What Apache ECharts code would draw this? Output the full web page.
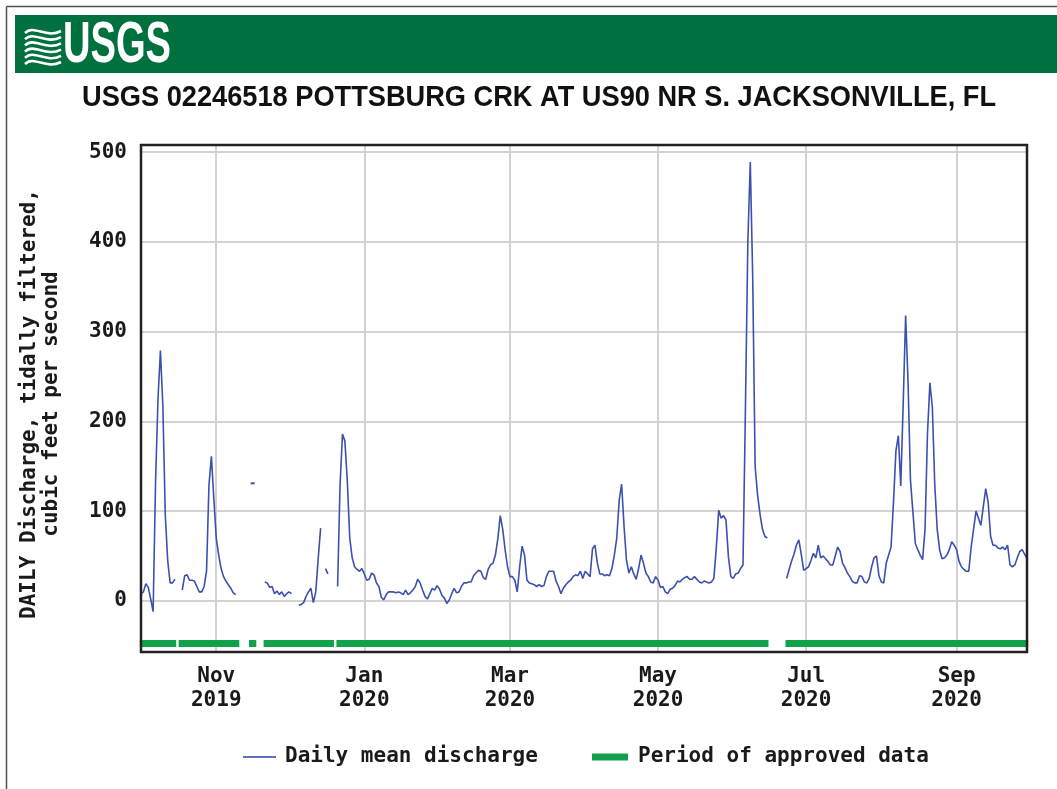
<!DOCTYPE html>
<html>
<head>
<meta charset="utf-8">
<script src="https://cdn.jsdelivr.net/npm/echarts@6/dist/echarts.min.js"></script>
<style>
  html, body { margin: 0; padding: 0; background: #ffffff; }
  #chart { width: 1057px; height: 789px; }
</style>
</head>
<body>
<div id="chart"></div>
<script>
// Daily mean discharge, tidally filtered (ft³/s), one array per month; null = no value that day
const oct2019 = [8, 10, 19, 15, 2, -12, 133, 225, 279, 218, 96, 45, 20, 20, 24, null, null, 12, 28, 29, 23, 23, 22, 16, 10, 10, 16, 33, 129, 161, 114];
const nov2019 = [70, 51, 36, 27, 22, 18, 14, 9, 7, null, null, null, null, null, null, 131, null, null, null, null, 21, 20, 15, 16, 8, 11, 7, 10, 5, 8];
const dec2019 = [10, 8, null, null, -5, -4, -2, 5, 10, 14, -2, 10, 47, 81, null, 36, 30, null, null, null, 16, 129, 186, 178, 133, 70, 48, 38, 35, 33, 36];
const jan2020 = [30, 23, 24, 31, 29, 20, 16, 4, 1, 7, 10, 10, 10, 9, 10, 9, 7, 12, 7, 9, 12, 16, 24, 20, 12, 5, 2, 8, 14, 12, 17];
const feb2020 = [13, 6, 3, -3, 1, 8, 14, 9, 10, 16, 20, 20, 21, 21, 28, 31, 34, 33, 26, 24, 35, 40, 42, 51, 69, 95, 80, 57, 38];
const mar2020 = [27, 27, 23, 10, 38, 61, 51, 23, 20, 19, 18, 16, 18, 16, 17, 27, 33, 33, 33, 22, 16, 8, 14, 18, 21, 23, 27, 29, 28, 33, 25];
const apr2020 = [33, 30, 27, 58, 62, 42, 30, 30, 28, 29, 28, 36, 51, 70, 112, 130, 83, 45, 31, 38, 30, 24, 36, 51, 42, 31, 27, 21, 20, 27];
const may2020 = [23, 15, 16, 10, 8, 13, 14, 17, 22, 21, 24, 26, 27, 24, 24, 27, 24, 21, 20, 22, 21, 20, 21, 25, 59, 101, 92, 95, 90, 49, 27];
const jun2020 = [25, 30, 31, 36, 40, 214, 400, 489, 361, 150, 118, 97, 80, 72, 70, null, null, null, null, null, null, null, 25, 35, 44, 52, 62, 68, 52, 34];
const jul2020 = [36, 38, 45, 53, 48, 62, 48, 50, 47, 44, 40, 40, 50, 60, 55, 42, 37, 31, 27, 22, 20, 20, 28, 27, 21, 20, 25, 38, 48, 50, 28];
const aug2020 = [21, 20, 42, 51, 60, 110, 167, 184, 128, 220, 318, 244, 134, 99, 64, 57, 51, 46, 80, 186, 243, 216, 130, 80, 57, 47, 48, 51, 57, 66, 62];
const sep2020 = [57, 44, 38, 35, 33, 33, 60, 80, 100, 92, 84, 105, 125, 110, 72, 62, 62, 59, 58, 60, 57, 62, 40, 38, 40, 48, 55, 57, 52, 47];

// Approved-data periods as [first day, last day], counted in days from 2019-10-01
const approvedPeriods = [[0, 14], [16, 40], [45, 47], [51, 79], [81, 258], [266, 365]];

// Date axis: first day of the water year and the labelled month starts
const firstDay = '2019-10-01';
const tickDates = ['2019-11-01', '2020-01-01', '2020-03-01', '2020-05-01', '2020-07-01', '2020-09-01'];
const tickLabels = ['Nov\n2019', 'Jan\n2020', 'Mar\n2020', 'May\n2020', 'Jul\n2020', 'Sep\n2020'];

const titleText = 'USGS 02246518 POTTSBURG CRK AT US90 NR S. JACKSONVILLE, FL';
const yNameText = 'DAILY Discharge, tidally filtered,\ncubic feet per second';
const legendLineText = 'Daily mean discharge';
const legendBarText = 'Period of approved data';

// ---------------------------------------------------------------------------
const discharge = [].concat(oct2019, nov2019, dec2019, jan2020, feb2020, mar2020,
  apr2020, may2020, jun2020, jul2020, aug2020, sep2020);

function dayLabel(i) {
  const d = new Date(Date.parse(firstDay + 'T00:00:00Z') + i * 86400000);
  return d.toISOString().slice(0, 10);
}
const days = discharge.map((_, i) => dayLabel(i));
const isTick = (idx, val) => tickDates.indexOf(val) !== -1;

// Lone daily values (no neighbours) get a small mark so they stay visible
const lineData = discharge.map((v, i) => {
  if (v == null) return null;
  const prev = discharge[i - 1], next = discharge[i + 1];
  if (prev == null && next == null) return { value: v, symbol: 'rect', symbolSize: [4, 2] };
  return v;
});

const MONO = '"DejaVu Sans Mono", "Liberation Mono", monospace';
const LABEL_FONT = 'bold 21px ' + MONO;
const labelText = { fontFamily: MONO, fontSize: 21, fontWeight: 'bold', color: '#1a1a1a' };
const BLUE = '#3c50ad';
const GREEN = '#13a04a';
const GRID_GRAY = '#d3d3d3';

// Width fitting for the condensed heading fonts
const ctx = document.createElement('canvas').getContext('2d');
function fitScale(text, font, width) {
  ctx.font = font;
  return width / ctx.measureText(text).width;
}
const TITLE_FONT = 'bold 30px "Liberation Sans", Arial, sans-serif';
const LOGO_FONT = 'bold 58px "Liberation Sans", Arial, sans-serif';
const titleScale = fitScale(titleText, TITLE_FONT, 914);
const logoScale = fitScale('USGS', LOGO_FONT, 108);

// Plot rectangle
const G = { left: 141, top: 145, right: 30, bottom: 137 };
const plotW = 1057 - G.left - G.right, plotH = 789 - G.top - G.bottom;

// Logo waves
const waves = [];
for (let i = 0; i < 6; i++) {
  const y = 30 + i * 6.2;
  waves.push({
    type: 'bezierCurve',
    shape: { x1: 25, y1: y + 3, cpx1: 34, cpy1: y - 6, cpx2: 46, cpy2: y + 9, x2: 61, y2: y + 1 },
    style: { stroke: '#ffffff', lineWidth: 2.6, fill: null }
  });
}

const chart = echarts.init(document.getElementById('chart'), null, { renderer: 'canvas' });

chart.setOption({
  animation: false,
  backgroundColor: '#ffffff',
  grid: {
    left: G.left, top: G.top, right: G.right, bottom: G.bottom,
    containLabel: false, outerBoundsMode: 'none'
  },
  xAxis: [
    {
      type: 'category',
      data: days,
      boundaryGap: false,
      axisLine: { show: false },
      axisTick: { show: false },
      axisLabel: Object.assign({
        interval: isTick,
        formatter: (v) => tickLabels[tickDates.indexOf(v)],
        margin: 13,
        lineHeight: 24
      }, labelText),
      splitLine: { show: true, interval: isTick, lineStyle: { color: GRID_GRAY, width: 2 } }
    },
    { type: 'value', min: 0, max: discharge.length - 1, show: false }
  ],
  yAxis: {
    type: 'value',
    min: -57,
    max: 508,
    minInterval: 100,
    maxInterval: 100,
    axisLine: { show: false },
    axisTick: { show: false },
    axisLabel: Object.assign({
      showMinLabel: false,
      showMaxLabel: false,
      margin: 14
    }, labelText),
    splitLine: { show: true, lineStyle: { color: GRID_GRAY, width: 2 } }
  },
  series: [
    {
      name: legendLineText,
      type: 'line',
      data: lineData,
      connectNulls: false,
      symbol: 'none',
      showSymbol: true,
      showAllSymbol: true,
      lineStyle: { color: BLUE, width: 1.6 },
      itemStyle: { color: BLUE },
      z: 4
    },
    {
      name: legendBarText,
      type: 'custom',
      xAxisIndex: 1,
      yAxisIndex: 0,
      clip: false,
      data: approvedPeriods,
      encode: { x: [0, 1] },
      renderItem: (params, api) => {
        const p1 = api.coord([api.value(0) - 0.5, -57]);
        const p2 = api.coord([api.value(1) + 0.5, -57]);
        return {
          type: 'rect',
          shape: { x: p1[0], y: p1[1] - 12, width: p2[0] - p1[0], height: 7 },
          style: { fill: GREEN }
        };
      },
      z: 3
    }
  ],
  graphic: [
    // page frame
    { type: 'line', shape: { x1: 6.5, y1: 6.5, x2: 1057, y2: 6.5 }, style: { stroke: '#505050', lineWidth: 1.5 } },
    { type: 'line', shape: { x1: 6.5, y1: 6.5, x2: 6.5, y2: 789 }, style: { stroke: '#505050', lineWidth: 1.5 } },
    // banner
    { type: 'rect', shape: { x: 15, y: 15, width: 1042, height: 58 }, style: { fill: '#00703f' } },
    ...waves,
    {
      type: 'text', x: 63, y: 46, scaleX: logoScale,
      style: { text: 'USGS', font: LOGO_FONT, fill: '#ffffff', align: 'left', verticalAlign: 'middle' }
    },
    // title
    {
      type: 'text', x: 539, y: 98, scaleX: titleScale,
      style: { text: titleText, font: TITLE_FONT, fill: '#111111', align: 'center', verticalAlign: 'middle' }
    },
    // y-axis name
    {
      type: 'text', x: 41, y: 404, rotation: Math.PI / 2,
      style: { text: yNameText, font: LABEL_FONT, lineHeight: 22, fill: '#1a1a1a', align: 'center', verticalAlign: 'middle' }
    },
    // plot frame
    {
      type: 'rect', z: 50,
      shape: { x: G.left, y: G.top, width: plotW, height: plotH },
      style: { fill: null, stroke: '#222222', lineWidth: 2.5 }
    },
    // legend
    { type: 'line', shape: { x1: 243, y1: 757, x2: 276, y2: 757 }, style: { stroke: '#5f70c0', lineWidth: 2 } },
    {
      type: 'text', x: 285, y: 757,
      style: { text: legendLineText, font: LABEL_FONT, fill: '#1a1a1a', align: 'left', verticalAlign: 'middle' }
    },
    { type: 'rect', shape: { x: 592, y: 753.5, width: 36, height: 7 }, style: { fill: GREEN } },
    {
      type: 'text', x: 638, y: 757,
      style: { text: legendBarText, font: LABEL_FONT, fill: '#1a1a1a', align: 'left', verticalAlign: 'middle' }
    }
  ]
});
</script>
</body>
</html>
